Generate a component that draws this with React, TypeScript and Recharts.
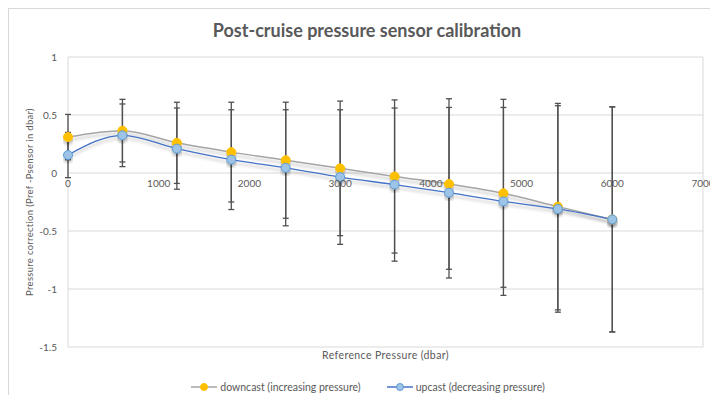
import { LineChart, Line, XAxis, YAxis, CartesianGrid, Legend, ErrorBar, ReferenceDot, Label } from 'recharts';

const pressures = [0, 600, 1200, 1800, 2400, 3000, 3600, 4200, 4800, 5400, 6000];
const downcast = [0.31, 0.365, 0.26, 0.18, 0.11, 0.04, -0.03, -0.095, -0.175, -0.29, -0.4];
const upcast = [0.155, 0.325, 0.21, 0.115, 0.045, -0.035, -0.1, -0.17, -0.245, -0.31, -0.4];
const errors = [0.195, 0.27, 0.35, 0.43, 0.5, 0.58, 0.66, 0.735, 0.81, 0.89, 0.97];

const xTicks = [0, 1000, 2000, 3000, 4000, 5000, 6000, 7000];
const yTicks = [-1.5, -1, -0.5, 0, 0.5, 1];

const data = pressures.map((p, i) => ({
  pressure: p,
  down: downcast[i],
  up: upcast[i],
  err: errors[i],
}));

const FONT = 'Lato, "Liberation Sans", sans-serif';
const TEXT = '#595959';

function LegendContent() {
  const items = [
    { label: 'downcast (increasing pressure)', line: '#a5a5a5', fill: '#ffc000', stroke: '#ffc000' },
    { label: 'upcast (decreasing pressure)', line: '#4472c4', fill: '#9dc3e6', stroke: '#5b9bd5' },
  ];
  return (
    <div style={{ display: 'flex', justifyContent: 'center', gap: 26, height: 16, alignItems: 'center', paddingLeft: 24, fontFamily: FONT, fontSize: 10.5, color: TEXT }}>
      {items.map((it) => (
        <div key={it.label} style={{ display: 'flex', alignItems: 'center' }}>
          <svg width={26} height={10} style={{ marginRight: 3 }}>
            <line x1={0} y1={5} x2={26} y2={5} stroke={it.line} strokeWidth={1.5} />
            <circle cx={13} cy={5} r={3.5} fill={it.fill} stroke={it.stroke} />
          </svg>
          <span>{it.label}</span>
        </div>
      ))}
    </div>
  );
}

export default function App() {
  return (
    <div style={{ position: 'relative', width: 709, height: 386, borderTop: '1px solid #d9d9d9', borderLeft: '1px solid #d9d9d9', background: '#fff' }}>
      <div style={{ position: 'absolute', top: 10, left: 0, width: 716, textAlign: 'center', fontFamily: FONT, fontWeight: 700, fontSize: 18, color: TEXT }}>
        Post-cruise pressure sensor calibration
      </div>
      <LineChart width={709} height={386} data={data} margin={{ top: 48, right: 15, left: 0, bottom: 12 }}>
        <defs>
          <filter id="lineShadow" x="-5%" y="-20%" width="110%" height="160%">
            <feDropShadow dx="0" dy="3" stdDeviation="1.5" floodColor="#000" floodOpacity="0.25" />
          </filter>
        </defs>
        <CartesianGrid stroke="#d9d9d9" strokeWidth={1} />
        <XAxis
          dataKey="pressure"
          type="number"
          domain={[0, 7000]}
          ticks={xTicks}
          tick={false}
          tickLine={false}
          axisLine={false}
          height={20}
        >
          <Label value="Reference Pressure (dbar)" position="insideTop" offset={5} style={{ fontFamily: FONT, fontSize: 10.5, letterSpacing: 0.4, fill: TEXT }} />
        </XAxis>
        <YAxis
          type="number"
          domain={[-1.5, 1]}
          ticks={yTicks}
          width={59}
          tickLine={false}
          axisLine={false}
          tickSize={0}
          tickMargin={11}
          tick={{ fontFamily: FONT, fontSize: 10, fill: TEXT }}
          label={{
            value: 'Pressure correction (Pref -Psensor in dbar)',
            angle: -90,
            position: 'insideLeft',
            offset: 21,
            style: { fontFamily: FONT, fontSize: 9.5, letterSpacing: 0.3, fill: TEXT, textAnchor: 'middle' },
          }}
        />
        {xTicks.map((t) => (
          <ReferenceDot
            key={t}
            x={t}
            y={0}
            r={0}
            fill="none"
            stroke="none"
            label={{ value: String(t), position: 'bottom', offset: 7, style: { fontFamily: FONT, fontSize: 10, fill: TEXT } }}
          />
        ))}
        <Legend verticalAlign="bottom" wrapperStyle={{ bottom: 0 }} content={<LegendContent />} />
        <Line
          dataKey="down"
          type="monotone"
          stroke="#a5a5a5"
          strokeWidth={1.5}
          filter="url(#lineShadow)"
          dot={{ r: 4.5, fill: '#ffc000', stroke: '#ffc000', strokeWidth: 1 }}
          activeDot={false}
          isAnimationActive={false}
        >
          <ErrorBar dataKey="err" direction="y" width={3} stroke="#505050" strokeWidth={1.3} />
        </Line>
        <Line
          dataKey="up"
          type="monotone"
          stroke="#4472c4"
          strokeWidth={1.3}
          filter="url(#lineShadow)"
          dot={{ r: 4.5, fill: '#9dc3e6', stroke: '#5b9bd5', strokeWidth: 1 }}
          activeDot={false}
          isAnimationActive={false}
        >
          <ErrorBar dataKey="err" direction="y" width={3} stroke="#505050" strokeWidth={1.3} />
        </Line>
      </LineChart>
    </div>
  );
}
